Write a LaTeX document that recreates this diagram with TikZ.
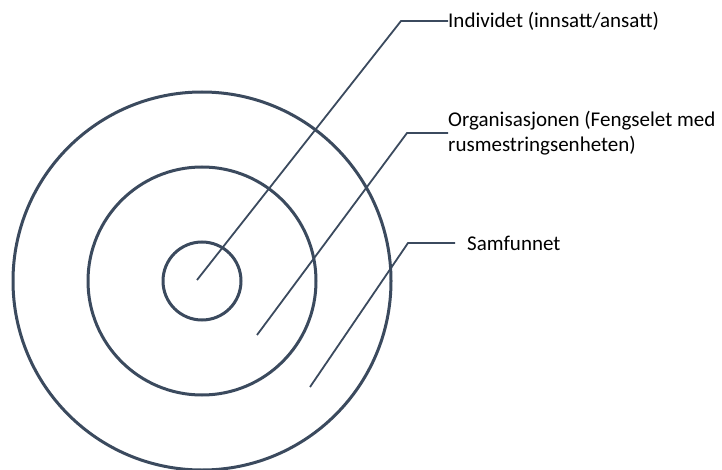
\documentclass[tikz,border=0pt]{standalone}
\usepackage{fontspec}
\setmainfont{Carlito}
\usepackage{tikz}
\usetikzlibrary{positioning}

\definecolor{slate}{RGB}{59,74,94}

\begin{document}
\begin{tikzpicture}[
    x=1pt, y=-1pt,
    ring/.style={draw=slate, circle, line width=3pt, inner sep=0pt},
    leader/.style={draw=slate, line width=1.8pt},
    lbl/.style={anchor=west, inner sep=0pt, align=left,
                font=\fontsize{21}{25}\selectfont},
  ]
    \useasboundingbox (0,0) rectangle (722,470);

    % ---- concentric rings ----
    \node[ring, minimum size=378pt] (samfunn) at (202,281) {};
    \node[ring, minimum size=228pt] (org)     at (202,281) {};
    \node[ring, minimum size=78pt]  (indiv)   at (202,281) {};

    % ---- labels ----
    \node[lbl] (lindiv) at (448,21) {Individet (innsatt/ansatt)};
    \node[lbl] (lorg)   at (448,133) {Organisasjonen (Fengselet med\\rusmestringsenheten)};
    \node[lbl, inner xsep=12pt] (lsamf) at (455,243) {Samfunnet};

    % ---- leader lines ----
    \coordinate (p1) at (197,280);
    \coordinate (k1) at (401,21);
    \coordinate (p2) at (257,335);
    \coordinate (k2) at (407,133);
    \coordinate (p3) at (310,387);
    \coordinate (k3) at (408,243);

    \draw[leader] (p1) -- (k1) -- (lindiv.west);
    \draw[leader] (p2) -- (k2) -- (lorg.west);
    \draw[leader] (p3) -- (k3) -- (lsamf.west);
  \end{tikzpicture}
\end{document}
